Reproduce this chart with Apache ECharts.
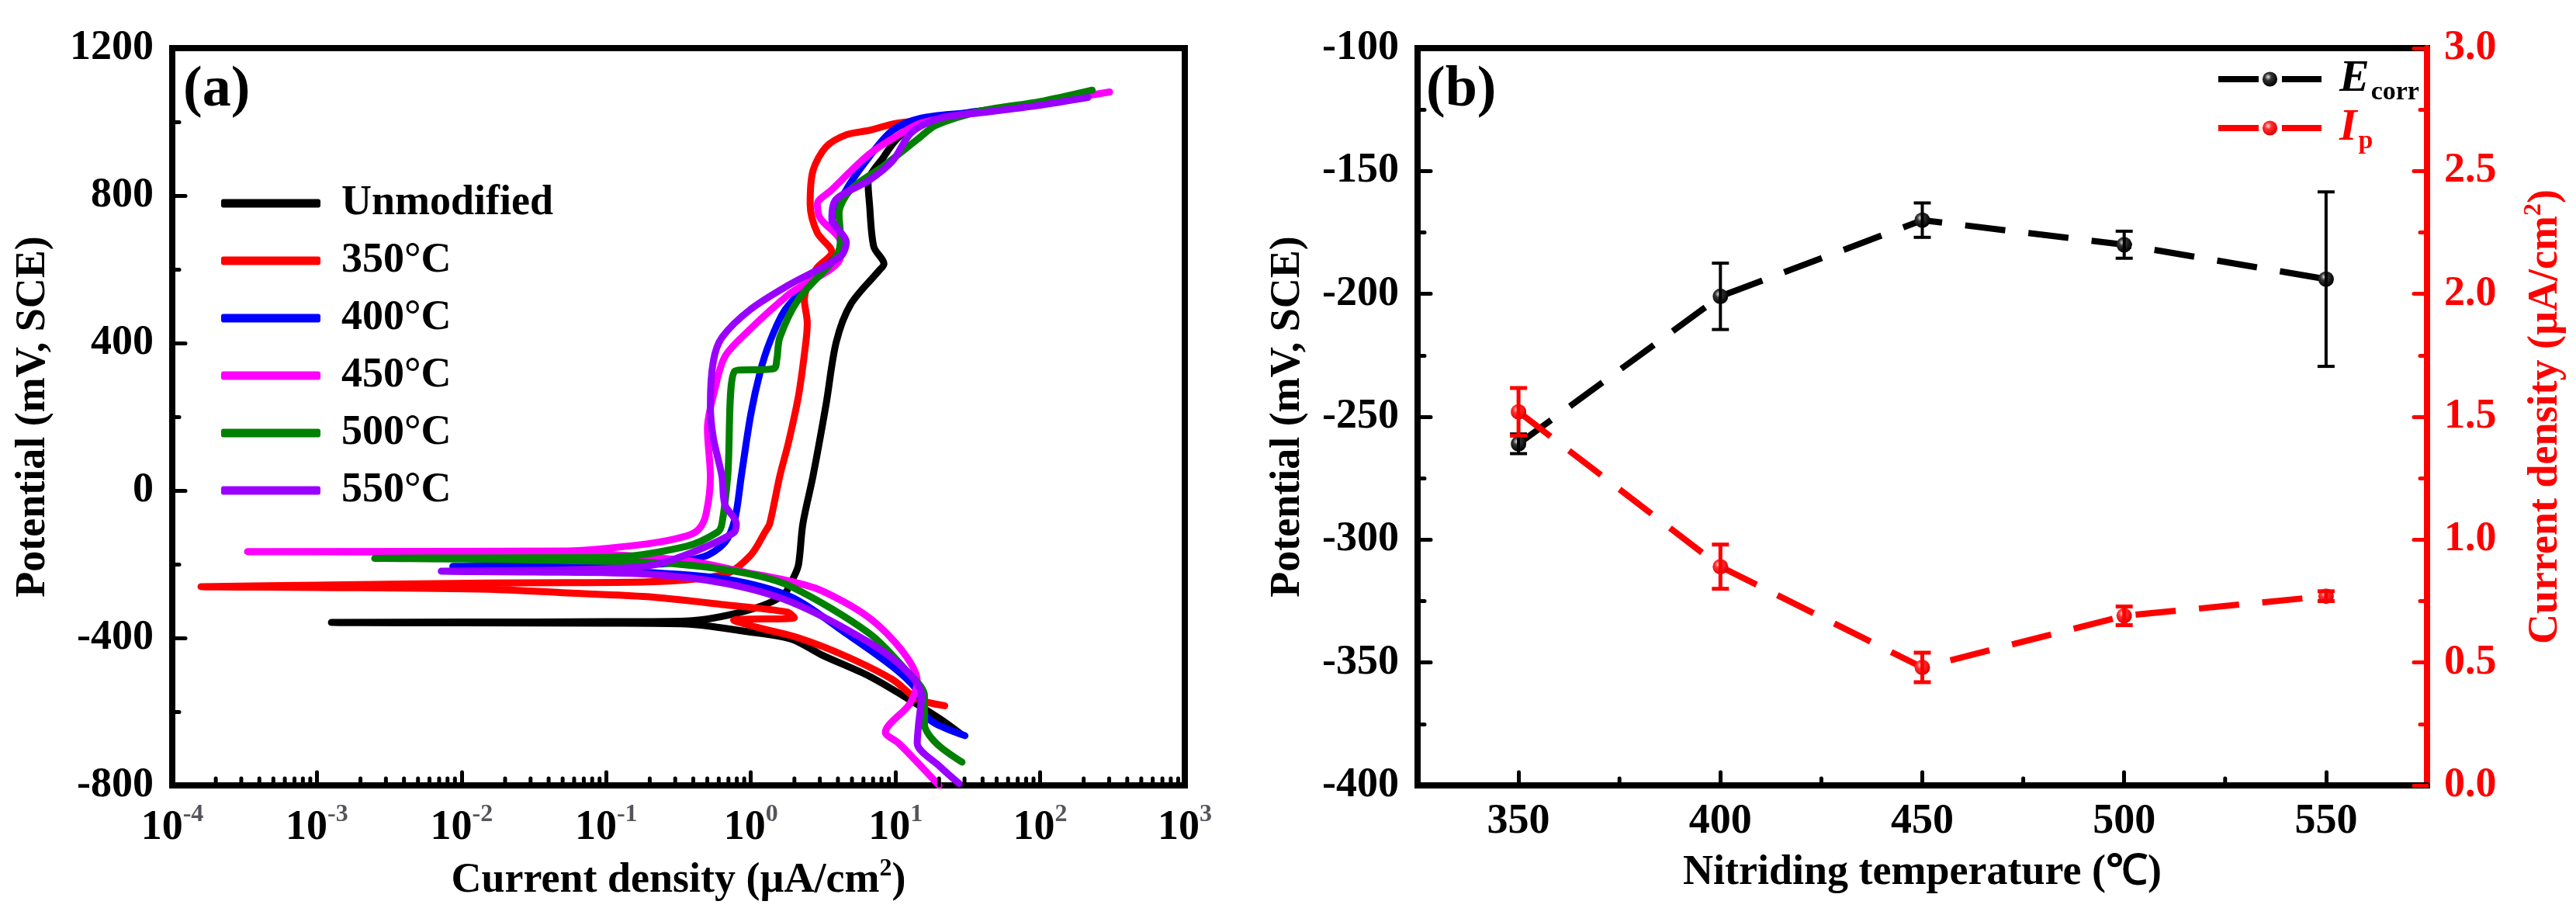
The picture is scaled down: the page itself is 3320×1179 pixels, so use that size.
<!DOCTYPE html>
<html style="height: 100%">
<head>
  <meta charset="utf-8">
</head>
<body style="height: 100%; margin: 0; background: #fff">
  <div id="container" style="width: 3320px; height: 1179px"></div>

  <script type="text/javascript" src="https://fastly.jsdelivr.net/npm/echarts@6.0.0/dist/echarts.min.js"></script>

  <script type="text/javascript">
    // ---- panel (a): polarization curves, [current density (uA/cm2), potential (mV)] ----
    // each curve runs cathodic end -> Ecorr tip -> anodic end
    var unmodified = [
      [28.2, -660], [20.4, -620], [11.2, -556], [6.61, -504], [3.09, -446], [1.9, -403],
      [0.912, -382], [0.355, -362], [0.1, -360], [0.01, -359], [0.00126, -358],
      [0.01, -357], [0.1, -356], [0.355, -354], [0.912, -327], [1.66, -285], [1.995, -232],
      [2.138, -200], [2.29, -90], [2.69, 39], [3.31, 233], [3.89, 402], [4.9, 505],
      [7.67, 596], [8.32, 615], [7.08, 661], [6.61, 777], [6.46, 835], [8.32, 906],
      [10.5, 958], [15.1, 997], [39.8, 1028], [100, 1050], [200, 1068]
    ];
    var t350 = [
      [21.9, -584], [14.1, -565], [9.55, -513], [4.57, -450], [2.14, -400], [1.12, -372],
      [0.76, -352], [2.0, -345], [1.78, -330], [0.661, -310], [0.191, -288], [0.0537, -278],
      [0.0155, -268], [0.001, -263], [0.000158, -261],
      [0.001, -257], [0.0155, -251], [0.0537, -250], [0.191, -248], [0.661, -227], [1.0, -175],
      [1.26, -111], [1.35, -90], [1.585, 39], [1.82, 130], [2.14, 259], [2.4, 402],
      [2.455, 454], [2.344, 518], [2.82, 600], [3.63, 647], [2.88, 699], [2.57, 777],
      [2.69, 868], [3.31, 932], [4.57, 965], [6.61, 977], [9.55, 994], [14.1, 1003],
      [39.8, 1030], [100, 1052], [214, 1072]
    ];
    var t400 = [
      [30.2, -665], [19.05, -633], [15.85, -607], [14.13, -543], [9.55, -478], [4.57, -388],
      [1.905, -289], [0.661, -240], [0.191, -222], [0.0316, -210], [0.0087, -206],
      [0.0316, -205], [0.219, -200], [0.468, -180], [0.661, -141], [0.776, -77], [0.859, 39],
      [1.0, 207], [1.164, 324], [1.349, 402], [1.698, 486], [2.455, 557], [3.89, 635],
      [4.365, 673], [3.63, 725], [4.57, 816], [6.61, 906], [9.55, 977], [15.1, 1010],
      [31.6, 1025], [100, 1052], [214, 1078]
    ];
    var t450 = [
      [20, -800], [14.13, -737], [10.47, -685], [8.51, -656], [12.59, -578], [14.13, -517],
      [11.22, -437], [6.61, -346], [3.09, -272], [1.905, -247], [0.912, -222], [0.355, -190],
      [0.0537, -170], [0.000331, -166],
      [0.0537, -164], [0.191, -145], [0.355, -124], [0.437, -105], [0.49, -64], [0.525, 39],
      [0.501, 168], [0.562, 272], [0.661, 363], [0.933, 428], [1.82, 531], [4.169, 635],
      [4.169, 673], [3.02, 738], [2.884, 777], [3.63, 816], [6.61, 913], [10.47, 964],
      [15.1, 997], [39.8, 1028], [100, 1050], [302, 1081]
    ];
    var t500 = [
      [28.84, -737], [19.05, -685], [15.85, -633], [15.85, -556], [12.02, -491], [6.61, -388],
      [1.905, -261], [0.912, -224], [0.316, -200], [0.1, -192], [0.01, -186], [0.00251, -184],
      [0.01, -183], [0.1, -182], [0.355, -152], [0.589, -113], [0.631, -90], [0.692, 39],
      [0.776, 324], [1.445, 331], [1.514, 357], [1.585, 415], [2.138, 519], [3.89, 635],
      [4.169, 686], [4.07, 751], [4.9, 816], [8.32, 881], [14.13, 952], [19.05, 991],
      [39.8, 1030], [100, 1055], [229, 1086]
    ];
    var t550 = [
      [27.54, -795], [20.42, -750], [14.13, -685], [14.45, -633], [15.14, -556], [12.02, -491],
      [6.61, -413], [1.905, -303], [0.661, -252], [0.191, -227], [0.0316, -221], [0.00724, -219],
      [0.0316, -217], [0.1, -212], [0.191, -205], [0.339, -178], [0.759, -115], [0.794, -90],
      [0.661, -38], [0.631, 39], [0.55, 143], [0.525, 233], [0.55, 350], [0.631, 415],
      [1.0, 492], [1.82, 557], [4.169, 635], [4.571, 673], [3.63, 738], [3.89, 790],
      [6.61, 842], [9.55, 894], [12.88, 971], [20.42, 1010], [39.8, 1025], [100, 1045], [214, 1066]
    ];
    var curveNames = ['Unmodified', '350\u00b0C', '400\u00b0C', '450\u00b0C', '500\u00b0C', '550\u00b0C'];
    var curveColors = ['#000000', '#ff0000', '#0000ff', '#ff00ff', '#008000', '#9900ff'];
    var curves = [unmodified, t350, t400, t450, t500, t550];

    // ---- panel (b): corrosion potential and passive current vs temperature ----
    var temps = [350, 400, 450, 500, 550];
    var ecorr = [-261, -201, -170, -180, -194];
    var ecorrErr = [4, 13.5, 7, 5.5, 35.5];
    var ip = [1.52, 0.89, 0.48, 0.69, 0.77];
    var ipErr = [0.097, 0.09, 0.06, 0.038, 0.02];

    // tick values
    var decades = [1e-4, 1e-3, 1e-2, 1e-1, 1, 10, 100];
    var minorSteps = [2, 3, 4, 5, 6, 7, 8, 9];
    var tempMajor = [350, 400, 450, 500, 550];
    var tempMinor = [375, 425, 475, 525];

    var FONT = '"Liberation Serif", "Times New Roman", serif';
    var logMinor = [];
    decades.forEach(function (d) {
      minorSteps.forEach(function (m) { logMinor.push(d * m); });
    });

    var dom = document.getElementById('container');
    var myChart = echarts.init(dom, null, { renderer: 'canvas' });

    function tickSeries(xi, yi, values, base, len) {
      return {
        type: 'custom', xAxisIndex: xi, yAxisIndex: yi, silent: true, clip: false, z: 6,
        data: values.map(function (v) { return [v, base]; }),
        renderItem: function (params, api) {
          var p = api.coord([api.value(0), api.value(1)]);
          return {
            type: 'line',
            shape: { x1: p[0], y1: p[1], x2: p[0], y2: p[1] - len },
            style: { stroke: '#000', lineWidth: 5, lineCap: 'round' }
          };
        }
      };
    }

    function errorBars(yi, values, errs, color, width) {
      return {
        type: 'custom', xAxisIndex: 1, yAxisIndex: yi, silent: true, z: 4,
        encode: { x: 0, y: [1, 2] },
        data: temps.map(function (t, k) { return [t, values[k] - errs[k], values[k] + errs[k]]; }),
        renderItem: function (params, api) {
          var lo = api.coord([api.value(0), api.value(1)]);
          var hi = api.coord([api.value(0), api.value(2)]);
          var st = { stroke: color, lineWidth: width };
          var h = 11;
          return {
            type: 'group',
            children: [
              { type: 'line', shape: { x1: lo[0], y1: lo[1], x2: hi[0], y2: hi[1] }, style: st },
              { type: 'line', shape: { x1: hi[0] - h, y1: hi[1], x2: hi[0] + h, y2: hi[1] }, style: st },
              { type: 'line', shape: { x1: lo[0] - h, y1: lo[1], x2: lo[0] + h, y2: lo[1] }, style: st }
            ]
          };
        }
      };
    }

    function ball(c0, c1, c2) {
      return {
        type: 'radial', x: 0.38, y: 0.35, r: 0.65,
        colorStops: [{ offset: 0, color: c0 }, { offset: 0.35, color: c1 }, { offset: 1, color: c2 }]
      };
    }

    var labelStyle = { fontFamily: FONT, fontWeight: 'bold', fontSize: 54, color: '#000' };
    var nameStyle = { fontFamily: FONT, fontWeight: 'bold', fontSize: 54, color: '#000' };
    var axisLine = { show: true, onZero: false, lineStyle: { color: '#000', width: 8 } };
    var majorTick = { show: true, inside: true, length: 17, lineStyle: { color: '#000', width: 5, cap: 'round' } };
    var minorTick = { show: true, splitNumber: 2, length: 9, lineStyle: { color: '#000', width: 5, cap: 'round' } };

    var series = curves.map(function (c, k) {
      return {
        name: curveNames[k], type: 'line', xAxisIndex: 0, yAxisIndex: 0,
        data: c, symbol: 'none', smooth: 0.3,
        lineStyle: { color: curveColors[k], width: 9, cap: 'round', join: 'round' },
        itemStyle: { color: curveColors[k] }
      };
    });
    series.push(tickSeries(0, 0, logMinor, -800, 9));
    series.push(tickSeries(1, 1, tempMinor, -400, 9));
    series.push({
      name: 'Ecorr', type: 'line', xAxisIndex: 1, yAxisIndex: 1, z: 3,
      data: temps.map(function (t, k) { return [t, ecorr[k]]; }),
      symbol: 'circle', symbolSize: 20,
      lineStyle: { color: '#000', width: 8, type: [52, 30] },
      itemStyle: { color: ball('#e6e6e6', '#333', '#000') }
    });
    series.push({
      name: 'Ip', type: 'line', xAxisIndex: 1, yAxisIndex: 2, z: 3,
      data: temps.map(function (t, k) { return [t, ip[k]]; }),
      symbol: 'circle', symbolSize: 20,
      lineStyle: { color: '#ff0000', width: 8, type: [52, 30] },
      itemStyle: { color: ball('#ffe0e0', '#ff3030', '#e00000') }
    });
    series.push(errorBars(1, ecorr, ecorrErr, '#000', 4));
    series.push(errorBars(2, ip, ipErr, '#ff0000', 5));

    var option = {
      animation: false,
      backgroundColor: '#fff',
      grid: [
        { left: 222, top: 62, width: 1305, height: 950, show: true, borderColor: '#000', borderWidth: 8 },
        { left: 1827, top: 62, width: 1301, height: 950, show: true, borderColor: '#000', borderWidth: 8 }
      ],
      xAxis: [
        {
          type: 'log', gridIndex: 0, min: 1e-4, max: 1e3, logBase: 10, splitNumber: 7,
          name: '{t|Current density (\u00b5A/cm}{sup|2}{t|)}',
          nameLocation: 'middle', nameGap: 92,
          nameTextStyle: {
            rich: {
              t: nameStyle,
              sup: { fontFamily: FONT, fontWeight: 'bold', fontSize: 32, padding: [0, 0, 30, 0] }
            }
          },
          axisLine: axisLine, axisTick: majorTick, splitLine: { show: false },
          axisLabel: {
            margin: 22,
            formatter: function (v) { return '{b|10}{s|' + Math.round(Math.log10(v)) + '}'; },
            rich: {
              b: labelStyle,
              s: { fontFamily: FONT, fontWeight: 'bold', fontSize: 32, padding: [0, 0, 34, 0] }
            }
          }
        },
        {
          type: 'value', gridIndex: 1, min: 325, max: 575,
          name: 'Nitriding temperature (\u2103)', nameLocation: 'middle', nameGap: 86,
          nameTextStyle: nameStyle,
          axisLine: axisLine, splitLine: { show: false },
          axisTick: { show: true, inside: true, length: 17, customValues: tempMajor, lineStyle: { color: '#000', width: 5, cap: 'round' } },
          axisLabel: Object.assign({ margin: 20, customValues: tempMajor }, labelStyle)
        }
      ],
      yAxis: [
        {
          type: 'value', gridIndex: 0, min: -800, max: 1200, interval: 400,
          name: 'Potential (mV, SCE)', nameLocation: 'middle', nameGap: 152,
          nameTextStyle: nameStyle,
          axisLine: axisLine, axisTick: majorTick, minorTick: minorTick, splitLine: { show: false },
          axisLabel: Object.assign({ margin: 24, formatter: function (v) { return String(v); } }, labelStyle)
        },
        {
          type: 'value', gridIndex: 1, min: -400, max: -100, interval: 50,
          name: 'Potential (mV, SCE)', nameLocation: 'middle', nameGap: 140,
          nameTextStyle: nameStyle,
          axisLine: axisLine, axisTick: majorTick, minorTick: minorTick, splitLine: { show: false },
          axisLabel: Object.assign({ margin: 24, formatter: function (v) { return String(v); } }, labelStyle)
        },
        {
          type: 'value', gridIndex: 1, position: 'right', min: 0, max: 3, interval: 0.5,
          name: '{t|Current density (\u00b5A/cm}{sup|2}{t|)}',
          nameLocation: 'middle', nameGap: 122,
          nameTextStyle: {
            rich: {
              t: { fontFamily: FONT, fontWeight: 'bold', fontSize: 54, color: '#ff0000' },
              sup: { fontFamily: FONT, fontWeight: 'bold', fontSize: 32, color: '#ff0000', padding: [0, 0, 30, 0] }
            }
          },
          axisLine: { show: true, onZero: false, lineStyle: { color: '#ff0000', width: 8 } },
          axisTick: { show: true, inside: true, length: 17, lineStyle: { color: '#ff0000', width: 5, cap: 'round' } },
          minorTick: { show: true, splitNumber: 2, length: 9, lineStyle: { color: '#ff0000', width: 5, cap: 'round' } },
          splitLine: { show: false },
          axisLabel: {
            margin: 22, fontFamily: FONT, fontWeight: 'bold', fontSize: 54, color: '#ff0000',
            formatter: function (v) { return v.toFixed(1); }
          }
        }
      ],
      legend: [
        {
          data: curveNames, orient: 'vertical', left: 280, top: 230,
          icon: 'roundRect', itemWidth: 128, itemHeight: 11, itemGap: 20, selectedMode: false,
          textStyle: { fontFamily: FONT, fontWeight: 'bold', fontSize: 54, lineHeight: 54, color: '#000', padding: [0, 0, 0, 22] }
        },
        {
          data: ['Ecorr', 'Ip'], orient: 'vertical', left: 2850, top: 68,
          itemWidth: 133, itemHeight: 24, itemGap: 0, selectedMode: false,
          lineStyle: { width: 8 },
          formatter: function (n) { return n === 'Ecorr' ? '{e|E}{s|corr}' : '{i|I}{p|p}'; },
          textStyle: {
            padding: [0, 0, 0, 18],
            rich: {
              e: { fontFamily: FONT, fontStyle: 'italic', fontWeight: 'bold', fontSize: 58, lineHeight: 62, color: '#000' },
              s: { fontFamily: FONT, fontWeight: 'bold', fontSize: 34, color: '#000', padding: [34, 0, 0, 2] },
              i: { fontFamily: FONT, fontStyle: 'italic', fontWeight: 'bold', fontSize: 58, lineHeight: 62, color: '#ff0000' },
              p: { fontFamily: FONT, fontWeight: 'bold', fontSize: 34, color: '#ff0000', padding: [34, 0, 0, 2] }
            }
          }
        }
      ],
      graphic: [
        { type: 'text', left: 236, top: 80, style: { text: '(a)', font: 'bold 74px ' + FONT, fill: '#000' } },
        { type: 'text', left: 1838, top: 80, style: { text: '(b)', font: 'bold 74px ' + FONT, fill: '#000' } }
      ],
      series: series
    };

    myChart.setOption(option);
    window.addEventListener('resize', myChart.resize);
  </script>
</body>
</html>
